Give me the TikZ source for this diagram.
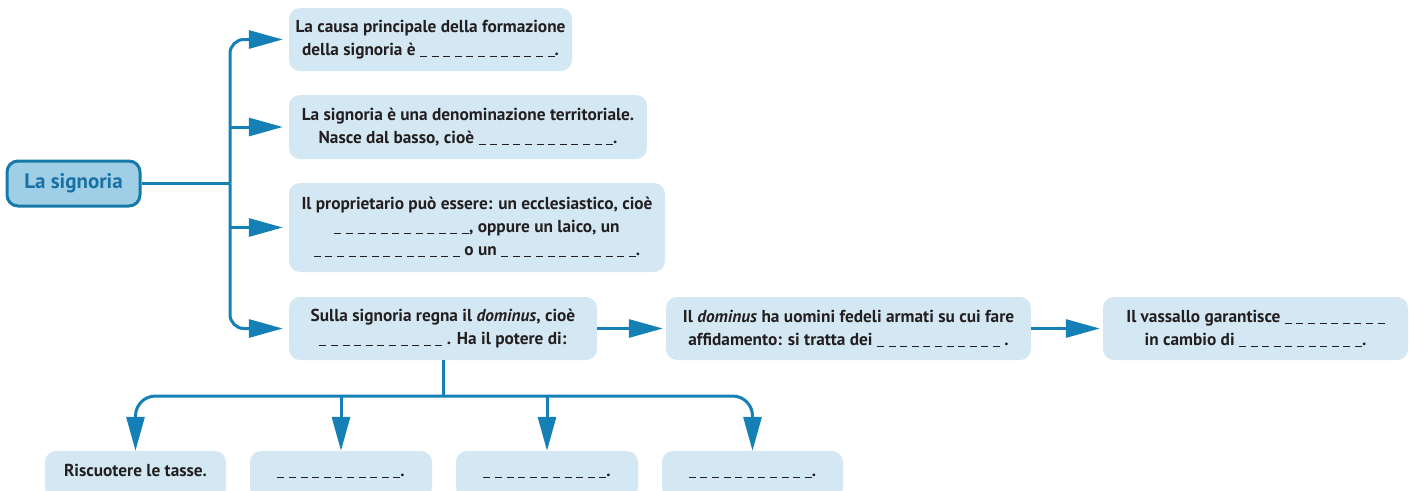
\documentclass[tikz,border=0pt]{standalone}
\usepackage{fontspec}
\setmainfont{PT Sans}
\usetikzlibrary{arrows.meta}
\definecolor{conn}{RGB}{20,128,182}
\definecolor{boxfill}{RGB}{212,232,243}
\definecolor{mainfill}{RGB}{158,207,230}
\definecolor{mainborder}{RGB}{23,120,170}
\definecolor{maintext}{RGB}{25,112,162}
\definecolor{txt}{RGB}{35,31,32}
\newcommand\blk[1]{\rule[-1.5pt]{7pt}{1pt}\foreach\i in{2,...,#1}{\hspace{4.6pt}\rule[-1.5pt]{7pt}{1pt}}}
\tikzset{
  txtfont/.style={font=\fontsize{17.3}{23}\selectfont\bfseries},
  box/.style={fill=boxfill, rounded corners=11pt, draw=none, align=center, text=txt,
    txtfont, inner sep=0pt},
  mainbox/.style={fill=mainfill, draw=mainborder, line width=3pt, rounded corners=11pt,
    text=maintext, font=\fontsize{21}{23}\selectfont\bfseries, inner sep=0pt},
  conn/.style={draw=conn, line width=3pt},
  arr/.style={conn, -{Triangle[length=34pt,width=18pt]}},
  lbl/.style={txtfont, text=txt, anchor=base, inner sep=0pt},
}
\begin{document}
\begin{tikzpicture}[x=1pt,y=-1pt]
\clip (0,0) rectangle (1410,490);
\fill[white] (0,0) rectangle (1410,490);
% main
\node[mainbox, minimum width=133pt, minimum height=45pt] (M) at (73.5,183.5) {La signoria};
% right boxes
\node[box, minimum width=283pt, minimum height=63pt] (B1) at (430.5,39.5)
  {La causa principale della formazione\\ della signoria è \blk{12}.};
\node[box, minimum width=358pt, minimum height=64pt] (B2) at (468,127)
  {La signoria è una denominazione territoriale.\\ Nasce dal basso, cioè \blk{12}.};
\node[box, minimum width=376pt, minimum height=89pt] (B3) at (477,227.5)
  {Il proprietario può essere: un ecclesiastico, cioè\\ \blk{12}, oppure un laico, un\\ \blk{13} o un \blk{12}.};
\node[box, minimum width=308pt, minimum height=63pt] (B4) at (443,328.5)
  {Sulla signoria regna il \textit{dominus}, cioè\\ \blk{11} . Ha il potere di:};
\node[box, minimum width=365pt, minimum height=63pt] (B5) at (848.5,328.5)
  {Il \textit{dominus} ha uomini fedeli armati su cui fare\\ affidamento: si tratta dei \blk{11} .};
\node[box, minimum width=305pt, minimum height=63pt] (B6) at (1255.5,328.5)
  {Il vassallo garantisce \blk{9}\\ in cambio di \blk{11}.};
% bottom boxes
\node[box, minimum width=181pt, minimum height=48pt] (BA) at (135.5,475) {};
\node[box, minimum width=182pt, minimum height=48pt] (BB) at (341,475) {};
\node[box, minimum width=182pt, minimum height=48pt] (BC) at (547,475) {};
\node[box, minimum width=181pt, minimum height=48pt] (BD) at (752.5,475) {};
\node[lbl] (TA) at (135.5,476) {Riscuotere le tasse.};
\node[lbl] (TB) at (341,476) {\blk{11}.};
\node[lbl] (TC) at (547,476) {\blk{11}.};
\node[lbl] (TD) at (752.5,476) {\blk{11}.};
% connectors left
\coordinate (J) at (230,183.5);
\draw[conn] (M.east) -- (J);
\draw[arr, rounded corners=14pt, shorten >=6pt] (J) |- (B1.west);
\draw[arr, shorten >=6pt] (J |- B2.west) -- (B2.west);
\draw[arr, shorten >=6pt] (J |- B3.west) -- (B3.west);
\draw[arr, rounded corners=14pt, shorten >=6pt] (J) |- (B4.west);
% right chain
\draw[arr, shorten >=3pt] (B4.east) -- (B5.west);
\draw[arr, shorten >=3pt] (B5.east) -- (B6.west);
% down
\coordinate (K) at (443,396);
\draw[conn] (B4.south) -- (K);
\draw[arr, rounded corners=20pt] (K) -| (BA.north);
\draw[arr] (K -| BB.north) -- (BB.north);
\draw[arr] (K -| BC.north) -- (BC.north);
\draw[arr, rounded corners=20pt] (K) -| (BD.north);
\end{tikzpicture}
\end{document}
